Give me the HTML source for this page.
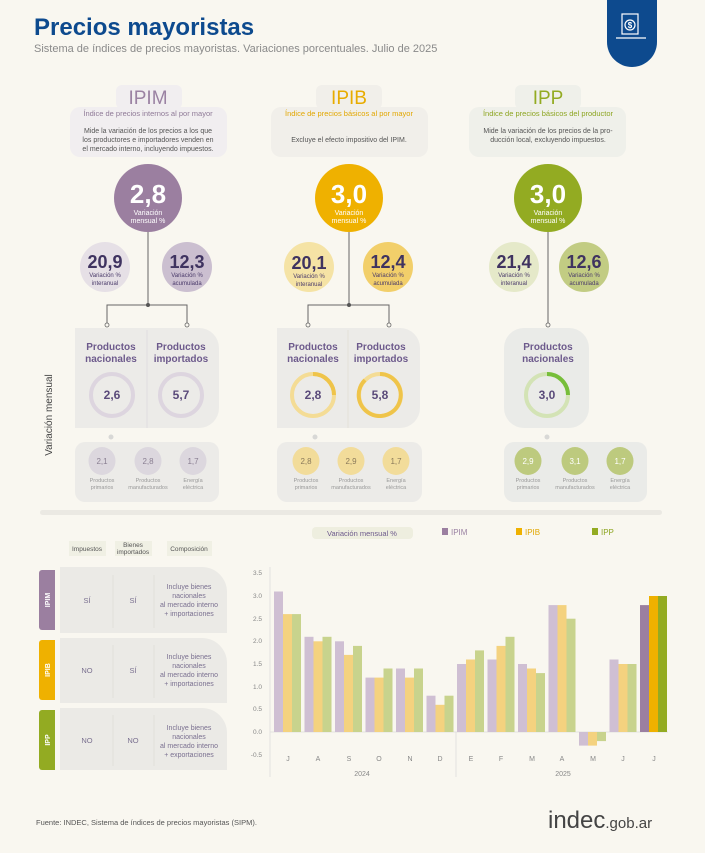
<!DOCTYPE html>
<html><head><meta charset="utf-8"><style>
html,body{margin:0;padding:0;background:#f9f7f0;}
svg{display:block;font-family:"Liberation Sans",sans-serif;}
</style></head><body>
<svg width="705" height="853" viewBox="0 0 705 853" xmlns="http://www.w3.org/2000/svg">
<rect width="705" height="853" fill="#f9f7f0"/>
<!-- header -->
<text x="34" y="35" font-size="24" font-weight="bold" fill="#0d4a8e">Precios mayoristas</text>
<text x="34" y="52" font-size="11" fill="#8a8a8a">Sistema de índices de precios mayoristas. Variaciones porcentuales. Julio de 2025</text>
<path d="M607 0 H657 V42 A25 25 0 0 1 607 42 Z" fill="#0d4a8e"/>
<g stroke="#fff" stroke-width="1.2" fill="none"><rect x="622" y="14" width="16" height="20"/><path d="M616 38 H646"/><circle cx="630" cy="25" r="5"/></g>
<text x="630" y="28" font-size="8" fill="#fff" text-anchor="middle" font-weight="bold">$</text>

<!-- index headers -->
<g font-size="8" text-anchor="middle">
<rect x="116" y="85" width="66" height="24" rx="6" fill="#f1eef0"/>
<rect x="70" y="107" width="157" height="50" rx="10" fill="#f1eef0"/>
<text x="148" y="104" font-size="19" fill="#9b82a3">IPIM</text>
<text x="148" y="116" font-size="7.5" fill="#8f7a97">Índice de precios internos al por mayor</text>
<text x="148" y="133" font-size="7" fill="#555">Mide la variación de los precios a los que</text>
<text x="148" y="142" font-size="7" fill="#555">los productores e importadores venden en</text>
<text x="148" y="151" font-size="7" fill="#555">el mercado interno, incluyendo impuestos.</text>

<rect x="316" y="85" width="66" height="24" rx="6" fill="#f1efea"/>
<rect x="271" y="107" width="157" height="50" rx="10" fill="#f1efea"/>
<text x="349" y="104" font-size="19" fill="#e8ac00">IPIB</text>
<text x="349" y="116" font-size="7.5" fill="#e2a700">Índice de precios básicos al por mayor</text>
<text x="349" y="142" font-size="7" fill="#555">Excluye el efecto impositivo del IPIM.</text>

<rect x="515" y="85" width="66" height="24" rx="6" fill="#eff0ea"/>
<rect x="469" y="107" width="157" height="50" rx="10" fill="#eff0ea"/>
<text x="548" y="104" font-size="19" fill="#93ab22">IPP</text>
<text x="548" y="116" font-size="7.5" fill="#8da521">Índice de precios básicos del productor</text>
<text x="548" y="133" font-size="7" fill="#555">Mide la variación de los precios de la pro-</text>
<text x="548" y="142" font-size="7" fill="#555">ducción local, excluyendo impuestos.</text>
</g>

<!-- connector lines -->
<g stroke="#666" stroke-width="1" fill="none">
<path d="M148 230 V305 M107 325 V305 H187 V325"/>
<path d="M349 230 V305 M308 325 V305 H389 V325"/>
<path d="M548 230 V325"/>
</g>
<g fill="#f9f7f0" stroke="#666" stroke-width="0.8">
<circle cx="107" cy="325" r="2"/><circle cx="187" cy="325" r="2"/>
<circle cx="308" cy="325" r="2"/><circle cx="389" cy="325" r="2"/>
<circle cx="548" cy="325" r="2"/>
</g>
<circle cx="148" cy="305" r="2" fill="#555"/><circle cx="349" cy="305" r="2" fill="#555"/>

<!-- big circles -->
<g text-anchor="middle">
<circle cx="148" cy="198" r="34" fill="#9b7fa0"/>
<text x="148" y="203" font-size="26" font-weight="bold" fill="#fff">2,8</text>
<text x="148" y="215" font-size="7" fill="#fff">Variación</text>
<text x="148" y="223" font-size="7" fill="#fff">mensual %</text>
<circle cx="349" cy="198" r="34" fill="#efb100"/>
<text x="349" y="203" font-size="26" font-weight="bold" fill="#fff">3,0</text>
<text x="349" y="215" font-size="7" fill="#fff">Variación</text>
<text x="349" y="223" font-size="7" fill="#fff">mensual %</text>
<circle cx="548" cy="198" r="34" fill="#93ab22"/>
<text x="548" y="203" font-size="26" font-weight="bold" fill="#fff">3,0</text>
<text x="548" y="215" font-size="7" fill="#fff">Variación</text>
<text x="548" y="223" font-size="7" fill="#fff">mensual %</text>

<!-- small circles -->
<g font-size="6" fill="#4a3a6a">
<circle cx="105" cy="267" r="25" fill="#e6e0e6"/><circle cx="187" cy="267" r="25" fill="#cbbfd0"/>
<circle cx="309" cy="267" r="25" fill="#f5e3a5"/><circle cx="388" cy="267" r="25" fill="#f2cf6a"/>
<circle cx="514" cy="267" r="25" fill="#e5e9c9"/><circle cx="584" cy="267" r="25" fill="#c2cc83"/>
<g font-size="18" font-weight="bold" fill="#3f3360">
<text x="105" y="268">20,9</text><text x="187" y="268">12,3</text>
<text x="309" y="269">20,1</text><text x="388" y="268">12,4</text>
<text x="514" y="268">21,4</text><text x="584" y="268">12,6</text>
</g>
<text x="105" y="277">Variación %</text><text x="105" y="285">interanual</text>
<text x="187" y="277">Variación %</text><text x="187" y="285">acumulada</text>
<text x="309" y="278">Variación %</text><text x="309" y="286">interanual</text>
<text x="388" y="277">Variación %</text><text x="388" y="285">acumulada</text>
<text x="514" y="277">Variación %</text><text x="514" y="285">interanual</text>
<text x="584" y="277">Variación %</text><text x="584" y="285">acumulada</text>
</g>
</g>

<!-- product boxes -->
<path d="M75 328 H199 A20 20 0 0 1 219 348 V408 A20 20 0 0 1 199 428 H75 Z" fill="#ecebe8"/>
<line x1="147" y1="330" x2="147" y2="428" stroke="#e0dde0"/>
<path d="M277 328 H400 A20 20 0 0 1 420 348 V408 A20 20 0 0 1 400 428 H277 Z" fill="#ecebe8"/>
<line x1="348" y1="330" x2="348" y2="428" stroke="#e4e0d8"/>
<path d="M504 348 A20 20 0 0 1 524 328 H569 A20 20 0 0 1 589 348 V408 A20 20 0 0 1 569 428 H524 A20 20 0 0 1 504 408 Z" fill="#eaebe8"/>

<g text-anchor="middle" font-size="10" font-weight="bold" fill="#6d5a8c">
<text x="111" y="350">Productos</text><text x="111" y="362">nacionales</text>
<text x="181" y="350">Productos</text><text x="181" y="362">importados</text>
<text x="313" y="350">Productos</text><text x="313" y="362">nacionales</text>
<text x="381" y="350">Productos</text><text x="381" y="362">importados</text>
<text x="548" y="350">Productos</text><text x="548" y="362">nacionales</text>
</g>
<g fill="none" stroke-width="4">
<circle cx="112" cy="395" r="21" stroke="#ddd5df"/>
<circle cx="181" cy="395" r="21" stroke="#ddd5df"/>
<circle cx="313" cy="395" r="21" stroke="#f4dc95"/>
<path d="M313 374 A21 21 0 0 1 334 395" stroke="#efc44a"/>
<circle cx="380" cy="395" r="21" stroke="#f4dc95"/>
<path d="M380 374 A21 21 0 1 1 365 380" stroke="#efc44a"/>
<circle cx="547" cy="395" r="21" stroke="#d3e3b5"/>
<path d="M547 374 A21 21 0 0 1 568 395" stroke="#77be3a"/>
</g>
<g text-anchor="middle" font-size="12" font-weight="bold" fill="#5a4a7a">
<text x="112" y="399">2,6</text><text x="181" y="399">5,7</text>
<text x="313" y="399">2,8</text><text x="380" y="399">5,8</text>
<text x="547" y="399">3,0</text>
</g>
<text x="52" y="415" font-size="10" fill="#444" text-anchor="middle" transform="rotate(-90 52 415)">Variación mensual</text>

<!-- bottom boxes -->
<g fill="#d8d8d6"><circle cx="111" cy="437" r="2.5"/><circle cx="315" cy="437" r="2.5"/><circle cx="547" cy="437" r="2.5"/></g>
<rect x="75" y="442" width="144" height="60" rx="10" fill="#ecebe8"/>
<rect x="277" y="442" width="145" height="60" rx="10" fill="#ecebe8"/>
<rect x="504" y="442" width="143" height="60" rx="10" fill="#eaebe8"/>
<g fill="#dcd7de"><ellipse cx="102" cy="461" rx="13.5" ry="14"/><ellipse cx="148" cy="461" rx="13.5" ry="14"/><ellipse cx="193" cy="461" rx="13.5" ry="14"/></g>
<g fill="#f2dc9a"><ellipse cx="306" cy="461" rx="13.5" ry="14"/><ellipse cx="351" cy="461" rx="13.5" ry="14"/><ellipse cx="396" cy="461" rx="13.5" ry="14"/></g>
<g fill="#bdca7e"><ellipse cx="528" cy="461" rx="13.5" ry="14"/><ellipse cx="575" cy="461" rx="13.5" ry="14"/><ellipse cx="620" cy="461" rx="13.5" ry="14"/></g>
<g text-anchor="middle" font-size="8">
<g fill="#8a7f92"><text x="102" y="464">2,1</text><text x="148" y="464">2,8</text><text x="193" y="464">1,7</text></g>
<g fill="#8a7a5a"><text x="306" y="464">2,8</text><text x="351" y="464">2,9</text><text x="396" y="464">1,7</text></g>
<g fill="#fff"><text x="528" y="464">2,9</text><text x="575" y="464">3,1</text><text x="620" y="464">1,7</text></g>
<g font-size="5.5" fill="#999">
<text x="102" y="482">Productos</text><text x="102" y="489">primarios</text>
<text x="148" y="482">Productos</text><text x="148" y="489">manufacturados</text>
<text x="193" y="482">Energía</text><text x="193" y="489">eléctrica</text>
<text x="306" y="482">Productos</text><text x="306" y="489">primarios</text>
<text x="351" y="482">Productos</text><text x="351" y="489">manufacturados</text>
<text x="396" y="482">Energía</text><text x="396" y="489">eléctrica</text>
<text x="528" y="482">Productos</text><text x="528" y="489">primarios</text>
<text x="575" y="482">Productos</text><text x="575" y="489">manufacturados</text>
<text x="620" y="482">Energía</text><text x="620" y="489">eléctrica</text>
</g>
</g>

<rect x="40" y="510" width="622" height="5" rx="2.5" fill="#ebe9e3"/>

<!-- table -->
<g text-anchor="middle" font-size="6.5" fill="#555">
<rect x="69" y="541" width="37" height="15" fill="#f0f0e4"/><text x="87" y="551">Impuestos</text>
<rect x="115" y="541" width="37" height="15" fill="#f0f0e4"/><text x="133" y="547">Bienes</text><text x="133" y="554">importados</text>
<rect x="167" y="541" width="45" height="15" fill="#f0f0e4"/><text x="189" y="551">Composición</text>
</g>
<g>
<path d="M39 573 A3 3 0 0 1 42 570 H55 V630 H42 A3 3 0 0 1 39 627 Z" fill="#9b7fa0"/>
<path d="M39 643 A3 3 0 0 1 42 640 H55 V700 H42 A3 3 0 0 1 39 697 Z" fill="#efb100"/>
<path d="M39 713 A3 3 0 0 1 42 710 H55 V770 H42 A3 3 0 0 1 39 767 Z" fill="#93ab22"/>
<path d="M60 567 H202 A25 25 0 0 1 227 592 V633 H60 Z" fill="#ebeae6"/>
<path d="M60 638 H202 A25 25 0 0 1 227 663 V703 H60 Z" fill="#ebeae6"/>
<path d="M60 708 H202 A25 25 0 0 1 227 733 V770 H60 Z" fill="#ebeae6"/>
</g>
<g font-size="7" font-weight="bold" fill="#fff" text-anchor="middle">
<text transform="translate(50 600) rotate(-90)">IPIM</text>
<text transform="translate(50 670) rotate(-90)">IPIB</text>
<text transform="translate(50 740) rotate(-90)">IPP</text>
</g>
<g stroke="#e2e0da"><line x1="113" y1="575" x2="113" y2="628"/><line x1="154" y1="575" x2="154" y2="628"/><line x1="113" y1="645" x2="113" y2="698"/><line x1="154" y1="645" x2="154" y2="698"/><line x1="113" y1="715" x2="113" y2="766"/><line x1="154" y1="715" x2="154" y2="766"/></g>
<g text-anchor="middle" font-size="7.5" fill="#7a7090">
<text x="87" y="603">SÍ</text><text x="133" y="603">SÍ</text>
<text x="87" y="673">NO</text><text x="133" y="673">SÍ</text>
<text x="87" y="743">NO</text><text x="133" y="743">NO</text>
<g font-size="7"><text x="189" y="589">Incluye bienes</text><text x="189" y="598">nacionales</text><text x="189" y="607">al mercado interno</text><text x="189" y="616">+ importaciones</text>
<text x="189" y="659">Incluye bienes</text><text x="189" y="668">nacionales</text><text x="189" y="677">al mercado interno</text><text x="189" y="686">+ importaciones</text>
<text x="189" y="730">Incluye bienes</text><text x="189" y="739">nacionales</text><text x="189" y="748">al mercado interno</text><text x="189" y="757">+ exportaciones</text></g>
</g>

<!-- legend -->
<rect x="312" y="527" width="101" height="12" rx="4" fill="#eeeedf"/>
<text x="362" y="536" font-size="7.5" fill="#6d5a8c" text-anchor="middle">Variación mensual %</text>
<rect x="442" y="528" width="6" height="7" fill="#9b7fa0"/><text x="451" y="535" font-size="8" fill="#9b82a3">IPIM</text>
<rect x="516" y="528" width="6" height="7" fill="#efb100"/><text x="525" y="535" font-size="8" fill="#e2a700">IPIB</text>
<rect x="592" y="528" width="6" height="7" fill="#93ab22"/><text x="601" y="535" font-size="8" fill="#8da521">IPP</text>

<!-- chart axes -->
<g stroke="#ddd" stroke-width="0.8"><line x1="270" y1="567" x2="270" y2="777"/><line x1="270" y1="732" x2="668" y2="732"/><line x1="456" y1="732" x2="456" y2="777"/></g>
<g font-size="6.5" fill="#888" text-anchor="end">
<text x="262" y="575">3.5</text><text x="262" y="598">3.0</text><text x="262" y="621">2.5</text><text x="262" y="643">2.0</text><text x="262" y="666">1.5</text><text x="262" y="689">1.0</text><text x="262" y="711">0.5</text><text x="262" y="734">0.0</text><text x="262" y="757">-0.5</text>
</g>
<!-- bars -->
<g fill="#cfbfd3">
<rect x="274" y="591.5" width="9" height="140.5"/><rect x="304.5" y="636.8" width="9" height="95.2"/><rect x="335" y="641.3" width="9" height="90.7"/><rect x="365.5" y="677.6" width="9" height="54.4"/><rect x="396" y="668.5" width="9" height="63.5"/><rect x="426.5" y="695.7" width="9" height="36.3"/><rect x="457" y="664" width="9" height="68"/><rect x="487.5" y="659.5" width="9" height="72.5"/><rect x="518" y="664" width="9" height="68"/><rect x="548.5" y="605.1" width="9" height="126.9"/><rect x="579" y="732" width="9" height="13.6"/><rect x="609.5" y="659.5" width="9" height="72.5"/>
</g>
<g fill="#f4d27f">
<rect x="283" y="614.1" width="9" height="117.9"/><rect x="313.5" y="641.3" width="9" height="90.7"/><rect x="344" y="654.9" width="9" height="77.1"/><rect x="374.5" y="677.6" width="9" height="54.4"/><rect x="405" y="677.6" width="9" height="54.4"/><rect x="435.5" y="704.8" width="9" height="27.2"/><rect x="466" y="659.5" width="9" height="72.5"/><rect x="496.5" y="645.9" width="9" height="86.1"/><rect x="527" y="668.5" width="9" height="63.5"/><rect x="557.5" y="605.1" width="9" height="126.9"/><rect x="588" y="732" width="9" height="13.6"/><rect x="618.5" y="664" width="9" height="68"/>
</g>
<g fill="#c8d38d">
<rect x="292" y="614.1" width="9" height="117.9"/><rect x="322.5" y="636.8" width="9" height="95.2"/><rect x="353" y="645.9" width="9" height="86.1"/><rect x="383.5" y="668.5" width="9" height="63.5"/><rect x="414" y="668.5" width="9" height="63.5"/><rect x="444.5" y="695.7" width="9" height="36.3"/><rect x="475" y="650.4" width="9" height="81.6"/><rect x="505.5" y="636.8" width="9" height="95.2"/><rect x="536" y="673.1" width="9" height="58.9"/><rect x="566.5" y="618.7" width="9" height="113.3"/><rect x="597" y="732" width="9" height="9.1"/><rect x="627.5" y="664" width="9" height="68"/>
</g>
<rect x="640" y="605.1" width="9" height="126.9" fill="#9b7fa0"/>
<rect x="649" y="596" width="9" height="136" fill="#efb100"/>
<rect x="658" y="596" width="9" height="136" fill="#93ab22"/>
<g font-size="7" fill="#888" text-anchor="middle">
<text x="288" y="761">J</text><text x="318" y="761">A</text><text x="349" y="761">S</text><text x="379" y="761">O</text><text x="410" y="761">N</text><text x="440" y="761">D</text><text x="471" y="761">E</text><text x="501" y="761">F</text><text x="532" y="761">M</text><text x="562" y="761">A</text><text x="593" y="761">M</text><text x="623" y="761">J</text><text x="654" y="761">J</text>
<text x="362" y="776">2024</text><text x="563" y="776">2025</text>
</g>

<!-- footer -->
<text x="36" y="825" font-size="7.5" fill="#555">Fuente: INDEC, Sistema de índices de precios mayoristas (SIPM).</text>
<text x="548" y="828" font-size="24" fill="#444">indec<tspan font-size="15">.gob.ar</tspan></text>
</svg>
</body></html>
